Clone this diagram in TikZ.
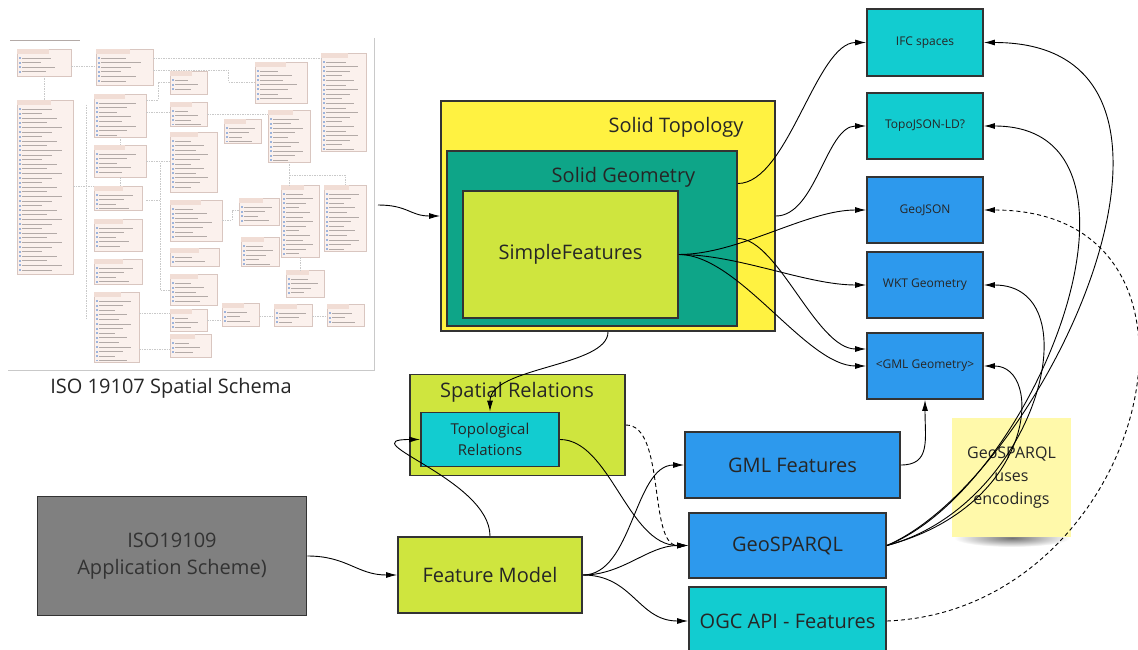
\documentclass[tikz,border=0pt]{standalone}
\usepackage{fontspec}
\setmainfont{Open Sans}
\usetikzlibrary{arrows.meta,calc}
\definecolor{topoyellow}{HTML}{FFF241}
\definecolor{geomteal}{HTML}{0EA588}
\definecolor{limegreen}{HTML}{CFE53E}
\definecolor{relcyan}{HTML}{12CCD0}
\definecolor{encblue}{HTML}{2D99ED}
\definecolor{appgrey}{HTML}{808080}
\definecolor{notepaper}{HTML}{FFF9AA}
\definecolor{boxline}{HTML}{333333}
\definecolor{txt}{HTML}{262626}
\definecolor{umlfill}{HTML}{FBF1ED}
\definecolor{umlhead}{HTML}{F1DDD5}
\definecolor{umlline}{HTML}{D9C6C0}
\definecolor{umlrow}{HTML}{B3AAA7}
\definecolor{umlicon}{HTML}{9DB4DC}
\definecolor{shotframe}{HTML}{C9C9C9}

\newcommand{\umlclass}[4]{%
	\fill[umlline!60] (#1+1.2,#2+1.2) rectangle (#3+1.2,#4+1.2);
	\filldraw[fill=umlfill, draw=umlline, line width=0.5pt] (#1,#2) rectangle (#3,#4);
	\fill[umlhead] (#1,#2) rectangle ({#1+0.6*(#3-#1)},#2+5);
	\begin{scope}
		\clip (#1,#2+6) rectangle (#3,#4-1.5);
		\foreach \r in {0,...,36} {
			\fill[umlicon] ({#1+1.5},{#2+8+4.6*\r}) rectangle ++(2,2);
			\draw[umlrow, line width=0.7pt] ({#1+5},{#2+9+4.6*\r}) -- ++({(0.35+0.09*mod(\r*3+#1,5))*(#3-#1)},0);
		}
	\end{scope}}

\begin{document}
\begin{tikzpicture}[x=1pt,y=-1pt,
		box/.style={draw=boxline, line width=1.8pt, inner sep=0pt, text=txt, align=center},
		lbl/.style={text=txt, inner sep=0pt},
		bigtext/.style={font=\fontsize{20}{27.5}\selectfont},
		smalltext/.style={font=\fontsize{12}{15}\selectfont},
		con/.style={-{Latex[length=11pt,width=6pt]}, line width=0.9pt},
		dashcon/.style={con, dash pattern=on 4pt off 3pt},
		umldash/.style={draw=shotframe, line width=0.5pt, dash pattern=on 1.5pt off 1pt}]
	\useasboundingbox (0,0) rectangle (1138,650);
	\fill[white] (0,0) rectangle (1138,650);
%
	% ISO 19107 screenshot
	\draw[umlrow, line width=0.6pt] (10,40) -- (80,40);
	\foreach \xa/\ya/\xb/\yb in {17/49/71/76, 96/49/153/85, 255/62/307/103, 321/53/366/151,
			170/71/207/94, 17/100/73/274, 94/94/146/137, 170/102/207/126, 224/119/261/143,
			268/110/310/162, 94/145/146/177, 170/132/217/192, 94/186/142/210, 94/219/142/251,
			170/200/222/241, 239/198/279/225, 241/237/279/266, 281/185/319/257, 324/185/366/251,
			170/248/219/266, 94/259/142/284, 170/274/217/305, 286/270/324/297, 94/292/139/362,
			170/309/207/331, 222/303/259/326, 274/304/312/326, 327/304/364/326, 170/334/211/357}
		{\umlclass{\xa}{\ya}{\xb}{\yb}}
	\draw[umldash] (71,66) -- (96,66) (44,76) -- (44,100) (153,58) -- (321,58)
		(153,70) -- (228,70) -- (228,82) -- (255,82) (146,100) -- (158,100) -- (158,82) -- (170,82)
		(146,112) -- (170,112) (207,114) -- (268,114) (146,161) -- (170,161)
		(120,137) -- (120,145) (120,177) -- (120,186) (73,186) -- (94,186)
		(86,105) -- (86,320) (160,163) -- (160,290) -- (170,290) (146,200) -- (160,200)
		(222,220) -- (232,220) -- (232,210) -- (239,210) (289,162) -- (289,185)
		(289,175) -- (345,175) -- (345,185) (300,257) -- (300,270)
		(139,313) -- (170,313) (207,320) -- (222,320) (259,316) -- (274,316)
		(312,316) -- (327,316) (139,349) -- (170,349);
	\draw[shotframe, line width=1.2pt] (374.5,38) -- (374.5,370.5) -- (8,370.5);
	\node[lbl, bigtext] (cap) at (171,388) {ISO 19107 Spatial Schema};
	\coordinate (shot) at (378,205);
%
	\node[box, fill=topoyellow, minimum width=334, minimum height=230] (ST) at (608,216) {};
	\node[box, fill=geomteal, minimum width=290, minimum height=175] (SG) at (592,238.5) {};
	\node[box, fill=limegreen, bigtext, minimum width=215, minimum height=127] (SF) at (570.5,254.5) {SimpleFeatures};
	\node[lbl, bigtext] (STl) at (676,127) {Solid Topology};
	\node[lbl, bigtext] (SGl) at (623.5,177.5) {Solid Geometry};
%
	\node[box, fill=limegreen, minimum width=215, minimum height=101] (SR) at (517.5,425) {};
	\node[lbl, bigtext] (SRl) at (517,392) {Spatial Relations};
	\node[box, fill=relcyan, font=\fontsize{15}{21}\selectfont, minimum width=138, minimum height=54] (TR) at (490,439.5) {Topological\\Relations};
%
	\node[box, fill=appgrey, bigtext, text=boxline, minimum width=269, minimum height=119] (ISO) at (172,556) {ISO19109\\Application Scheme)};
	\node[box, fill=limegreen, bigtext, minimum width=184, minimum height=76] (FM) at (490,575) {Feature Model};
	\node[box, fill=encblue, bigtext, minimum width=215, minimum height=66] (GMLF) at (792.5,465) {GML Features};
	\node[box, fill=encblue, bigtext, minimum width=197, minimum height=65] (GS) at (787.5,545.5) {GeoSPARQL};
	\node[box, fill=relcyan, bigtext, minimum width=197, minimum height=68] (OGC) at (787.5,621) {OGC API - Features};
%
	\node[box, fill=relcyan, smalltext, minimum width=116, minimum height=67] (IFC) at (925,42.5) {IFC spaces};
	\node[box, fill=relcyan, smalltext, minimum width=116, minimum height=66] (TJ) at (925,126) {TopoJSON-LD?};
	\node[box, fill=encblue, smalltext, minimum width=116, minimum height=66] (GJ) at (925,210) {GeoJSON};
	\node[box, fill=encblue, smalltext, minimum width=116, minimum height=66] (WKT) at (925,285) {WKT Geometry};
	\node[box, fill=encblue, smalltext, minimum width=116, minimum height=66] (GMLG) at (925,366) {<GML Geometry>};
%
	\shade[inner color=black!55, outer color=white] (1012,538) ellipse (58 and 9);
	\node[box, draw=none, fill=notepaper, font=\fontsize{16}{23}\selectfont, minimum width=119, minimum height=119] (note) at (1011.5,477.5) {GeoSPARQL\\uses\\encodings};
%
	\draw[con] (shot) .. controls +(30,0) and +(-30,0) .. (ST.west);
	\draw[con] ($(SG.east)+(0,-55)$) .. controls +(50,0) and +(-50,0) .. (IFC.west);
	\draw[con] (ST.east) .. controls +(40,0) and +(-40,0) .. (TJ.west);
	\draw[con] (SF.east) .. controls +(60,0) and +(-60,0) .. (GJ.west);
	\draw[con] (SF.east) .. controls +(60,0) and +(-60,0) .. (WKT.west);
	\draw[con] (SF.east) .. controls +(60,0) and +(-60,0) .. (GMLG.west);
	\draw[con] (SG.east) .. controls +(40,0) and +(-50,0) .. ($(GMLG.west)+(0,-17)$);
	\draw[con] (ST.south) .. controls +(0,35) and +(0,-45) .. (TR.north);
	\draw[con] (FM.north) .. controls +(0,-57) and +(-71,0) .. (TR.west);
	\draw[con] (ISO.east) .. controls +(40,0) and +(-40,0) .. (FM.west);
	\draw[con] (FM.east) .. controls +(50,0) and +(-50,0) .. (GMLF.west);
	\draw[con] (FM.east) .. controls +(40,0) and +(-40,0) .. (GS.west);
	\draw[con] (FM.east) .. controls +(50,0) and +(-50,0) .. (OGC.west);
	\draw[con] (TR.east) .. controls +(50,0) and +(-60,0) .. (GS.west);
	\draw[dashcon] (SR.east) .. controls +(40,0) and +(-40,0) .. (GS.west);
	\draw[con] (GMLF.east) .. controls +(30,0) and +(0,40) .. (GMLG.south);
	\draw[con] (GS.east) .. controls +(160,-70) and +(260,0) .. (IFC.east);
	\draw[con] (GS.east) .. controls +(150,-60) and +(190,0) .. (TJ.east);
	\draw[con] (GS.east) .. controls +(150,-40) and +(110,0) .. (WKT.east);
	\draw[con] (GS.east) .. controls +(150,-40) and +(60,0) .. (GMLG.east);
	\draw[dashcon] (OGC.east) .. controls +(260,-10) and +(260,0) .. (GJ.east);
\end{tikzpicture}
\end{document}
